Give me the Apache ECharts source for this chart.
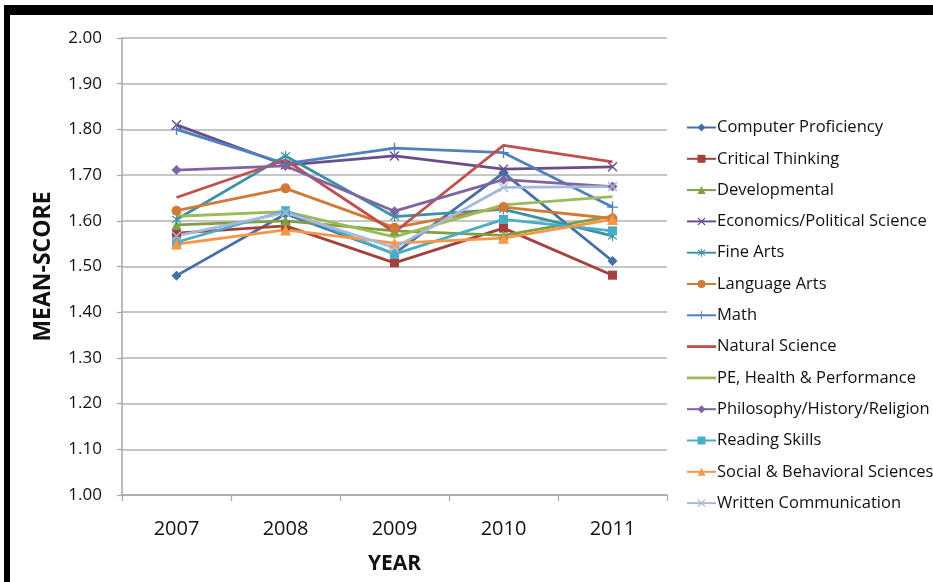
<!DOCTYPE html>
<html>
<head>
<meta charset="utf-8">
<script src="https://cdn.jsdelivr.net/npm/echarts@6/dist/echarts.min.js"></script>
<style>
html,body{margin:0;padding:0;background:#fff;}
#chart{width:933px;height:582px;}
</style>
</head>
<body>
<div id="chart"></div>
<script>
var years = ['2007', '2008', '2009', '2010', '2011'];
var yTicks = ['1.00','1.10','1.20','1.30','1.40','1.50','1.60','1.70','1.80','1.90','2.00'];

var computerProficiency = [1.480, 1.615, 1.528, 1.705, 1.512];
var criticalThinking    = [1.573, 1.589, 1.508, 1.584, 1.481];
var developmental       = [1.591, 1.600, 1.578, 1.568, 1.610];
var economicsPolitical  = [1.810, 1.722, 1.742, 1.713, 1.718];
var fineArts            = [1.603, 1.742, 1.609, 1.625, 1.567];
var languageArts        = [1.622, 1.671, 1.585, 1.630, 1.605];
var math                = [1.800, 1.725, 1.759, 1.749, 1.630];
var naturalScience      = [1.651, 1.733, 1.575, 1.765, 1.729];
var peHealth            = [1.610, 1.620, 1.565, 1.635, 1.653];
var philosophy          = [1.711, 1.720, 1.621, 1.690, 1.675];
var readingSkills       = [1.553, 1.622, 1.527, 1.603, 1.578];
var socialBehavioral    = [1.549, 1.580, 1.551, 1.562, 1.603];
var writtenComm         = [1.567, 1.618, 1.541, 1.673, 1.675];

var seriesNames = ['Computer Proficiency','Critical Thinking','Developmental','Economics/Political Science','Fine Arts','Language Arts','Math','Natural Science','PE, Health & Performance','Philosophy/History/Religion','Reading Skills','Social & Behavioral Sciences','Written Communication'];
var seriesData = [computerProficiency, criticalThinking, developmental, economicsPolitical, fineArts, languageArts, math, naturalScience, peHealth, philosophy, readingSkills, socialBehavioral, writtenComm];
var colors = ['#4470A6','#A3413E','#7F9F45','#694E8A','#3B92A8','#D27A35','#4F81BD','#C0504D','#9BBB59','#8064A2','#4BACC6','#F79646','#A7B9DA'];

var X = 'path://M1,0L5,4L9,0L10,1L6,5L10,9L9,10L5,6L1,10L0,9L4,5L0,1Z';
var STAR = 'path://M1,0L5,4L9,0L10,1L6,5L10,9L9,10L5,6L1,10L0,9L4,5L0,1ZM4.4,-1.5h1.2v13h-1.2Z';
var PLUS = 'path://M4.4,0h1.2v4.4h4.4v1.2h-4.4v4.4h-1.2v-4.4h-4.4v-1.2h4.4Z';
var symbols = ['diamond','rect','triangle',X,STAR,'circle',PLUS,'none','none','diamond','rect','triangle',X];
var sizes = [10,9,10,10,10,10,11,0,0,10,9,11,10];

var font = '"Open Sans", "Noto Sans", sans-serif';

var series = seriesNames.map(function(n, i){
  var hasMarker = symbols[i] !== 'none';
  return {
    name: n,
    type: 'line',
    data: seriesData[i],
    symbol: symbols[i],
    symbolSize: sizes[i],
    showSymbol: hasMarker,
    lineStyle: {width: 2.8, color: colors[i]},
    itemStyle: {color: colors[i]},
    emphasis: {disabled: true},
    animation: false
  };
});

var legendData = seriesNames.map(function(n, i){
  if (symbols[i] === 'none') {
    return {name: n, icon: 'path://M0,0h29v2.8h-29z'};
  }
  return {name: n};
});

var chart = echarts.init(document.getElementById('chart'));
chart.setOption({
  animation: false,
  backgroundColor: '#ffffff',
  color: colors,
  graphic: [
    {type:'rect', shape:{x:4, y:5, width:929, height:10}, style:{fill:'#000'}},
    {type:'rect', shape:{x:4, y:5, width:6, height:577}, style:{fill:'#000'}}
  ],
  grid: {left: 122, right: 266, top: 38, bottom: 87, containLabel: false},
  legend: {
    orient: 'vertical',
    left: 686,
    top: 118.5,
    padding: 0,
    itemWidth: 29,
    itemHeight: 10,
    itemGap: 13.3,
    symbolKeepAspect: true,
    textStyle: {fontFamily: font, fontSize: 16.5, color: '#111', lineHeight: 18, padding: [0,0,0,-4]},
    data: legendData
  },
  xAxis: {
    type: 'category',
    data: years,
    boundaryGap: true,
    name: 'YEAR',
    nameLocation: 'middle',
    nameGap: 59,
    nameTextStyle: {fontFamily: font, fontSize: 21, fontWeight: 'bold', color: '#111'},
    axisLine: {lineStyle: {color: '#a6a6a6', width: 1.5}},
    axisTick: {show: true, length: 6, lineStyle: {color: '#a6a6a6', width: 1.2}},
    axisLabel: {fontFamily: font, fontSize: 20, color: '#111', margin: 24}
  },
  yAxis: {
    type: 'value',
    min: 1.0,
    max: 2.0,
    interval: 0.1,
    name: 'MEAN-SCORE',
    nameLocation: 'middle',
    nameRotate: 90,
    nameGap: 67,
    nameTextStyle: {fontFamily: font, fontSize: 23, fontWeight: 'bold', color: '#111'},
    axisLine: {show: true, lineStyle: {color: '#a6a6a6', width: 1.5}},
    axisTick: {show: true, length: 5, lineStyle: {color: '#a6a6a6', width: 1.2}},
    splitLine: {lineStyle: {color: '#b3b3b3', width: 1.5}},
    axisLabel: {
      fontFamily: font, fontSize: 17, color: '#111', margin: 20,
      formatter: function(v){
        var idx = Math.round((v - 1.0) / 0.1);
        return yTicks[idx] !== undefined ? yTicks[idx] : v.toFixed(2);
      }
    }
  },
  series: series
});
</script>
</body>
</html>
